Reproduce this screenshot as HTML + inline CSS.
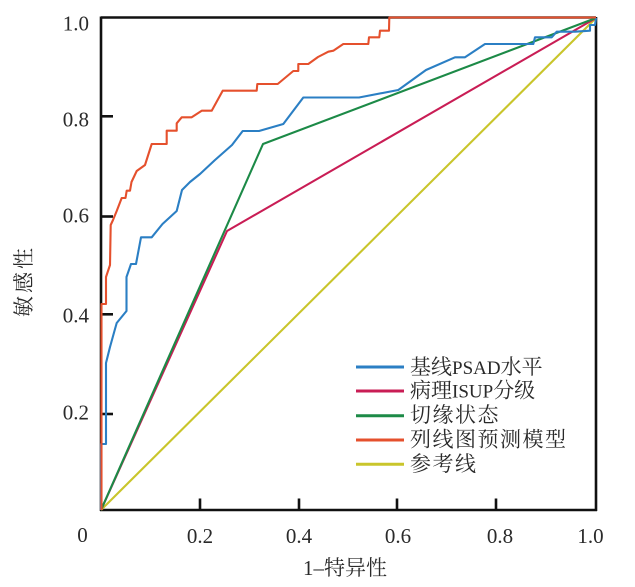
<!DOCTYPE html>
<html>
<head>
<meta charset="utf-8">
<style>
html,body{margin:0;padding:0;background:#fff;}
svg{display:block;}
text{font-family:"Liberation Serif","Noto Serif CJK SC","Noto Sans CJK SC",serif;fill:#2a2a2a;}
</style>
</head>
<body>
<svg width="635" height="587" viewBox="0 0 635 587" xmlns="http://www.w3.org/2000/svg">
<rect x="0" y="0" width="635" height="587" fill="#fff"/>

<!-- axes box -->
<g stroke="#111" stroke-width="2.6" fill="none">
  <line x1="101" y1="17.5" x2="596" y2="17.5"/>
  <line x1="101" y1="16.5" x2="101" y2="511"/>
  <line x1="100" y1="510" x2="597" y2="510"/>
  <line x1="596" y1="17" x2="596" y2="511"/>
  <!-- y ticks -->
  <line x1="101" y1="116.3" x2="113" y2="116.3"/>
  <line x1="101" y1="216.5" x2="113" y2="216.5"/>
  <line x1="101" y1="314.3" x2="113" y2="314.3"/>
  <line x1="101" y1="414" x2="113" y2="414"/>
  <!-- x ticks -->
  <line x1="200" y1="510" x2="200" y2="498.5"/>
  <line x1="299" y1="510" x2="299" y2="498.5"/>
  <line x1="397" y1="510" x2="397" y2="498.5"/>
  <line x1="496" y1="510" x2="496" y2="498.5"/>
</g>

<!-- series -->
<g fill="none" stroke-width="2.1" stroke-linejoin="round">
  <line x1="101" y1="510" x2="596" y2="18" stroke="#c9c52b"/>
  <polyline stroke="#c91d55" points="101,510 227,231 596,18"/>
  <polyline stroke="#1c8a47" points="101,510 263,144 596,18"/>
  <polyline stroke="#2b7fc4" points="101,510 101,444 106,444 106,363 110,347 115,329 116.7,323 126.5,311 126.5,277 131,264 136,264 141,237.3 151.7,237.3 162.5,224 176.7,211 182,190 190,182 200,174 215,160 232,145 242.7,131 259,131 283.3,124 303.3,97.5 359,97.5 398.3,90 426,70 455,57.3 465,57.3 485,44 533.3,44 535,37.3 551.7,37.3 556.7,31.7 575,31.7 590,30.7 590,25 595,25 596,18"/>
  <polyline stroke="#e5502d" points="101.5,510 101.5,304 106,304 106,277 110,265 110.7,225 113,220 116.7,211 121.7,198 125.5,198 126.7,190.7 130,190.7 131.5,182 136.7,171 145,165 151.7,144 166.7,144 166.7,130.7 176.7,130.7 176.7,123.3 181.7,117.3 191.7,117.3 201.7,110.7 211.7,110.7 222.7,90.7 256.7,90.7 257.3,84 277.7,84 293.3,71 298.3,71 298.3,64 308.3,64 318,57 328.3,51.7 333.3,50.7 343.3,44 368.3,44 369,37.3 379.3,37.3 380,30.7 389,30.7 389.3,17.5 596,17.5"/>
</g>

<!-- y tick labels -->
<g font-size="21" text-anchor="end">
  <text x="89" y="30.5">1.0</text>
  <text x="89" y="126.5">0.8</text>
  <text x="89" y="222.7">0.6</text>
  <text x="89" y="322.7">0.4</text>
  <text x="89" y="419.3">0.2</text>
</g>
<!-- x tick labels -->
<g font-size="21" text-anchor="middle">
  <text x="82.5" y="542">0</text>
  <text x="200" y="543">0.2</text>
  <text x="299" y="543">0.4</text>
  <text x="398" y="543">0.6</text>
  <text x="500" y="543">0.8</text>
  <text x="590.5" y="543">1.0</text>
</g>

<!-- axis titles -->
<text x="303" y="575" font-size="21">1–特异性</text>
<text transform="translate(31,281) rotate(-90)" font-size="21" text-anchor="middle" letter-spacing="3">敏感性</text>

<!-- legend -->
<g stroke-width="3" fill="none">
  <line x1="356" y1="367" x2="404" y2="367" stroke="#2b7fc4"/>
  <line x1="356" y1="391" x2="404" y2="391" stroke="#c91d55"/>
  <line x1="356" y1="415.7" x2="404" y2="415.7" stroke="#1c8a47"/>
  <line x1="356" y1="440" x2="404" y2="440" stroke="#e5502d"/>
  <line x1="356" y1="464.3" x2="404" y2="464.3" stroke="#c9c52b"/>
</g>
<g font-size="21">
  <text x="410" y="374">基线<tspan font-size="19">PSAD</tspan>水平</text>
  <text x="410" y="397.5">病理<tspan font-size="19">ISUP</tspan>分级</text>
  <text x="410" y="422" letter-spacing="1.5">切缘状态</text>
  <text x="410" y="446.5" letter-spacing="1.5">列线图预测模型</text>
  <text x="410" y="471" letter-spacing="1.5">参考线</text>
</g>
</svg>
</body>
</html>
